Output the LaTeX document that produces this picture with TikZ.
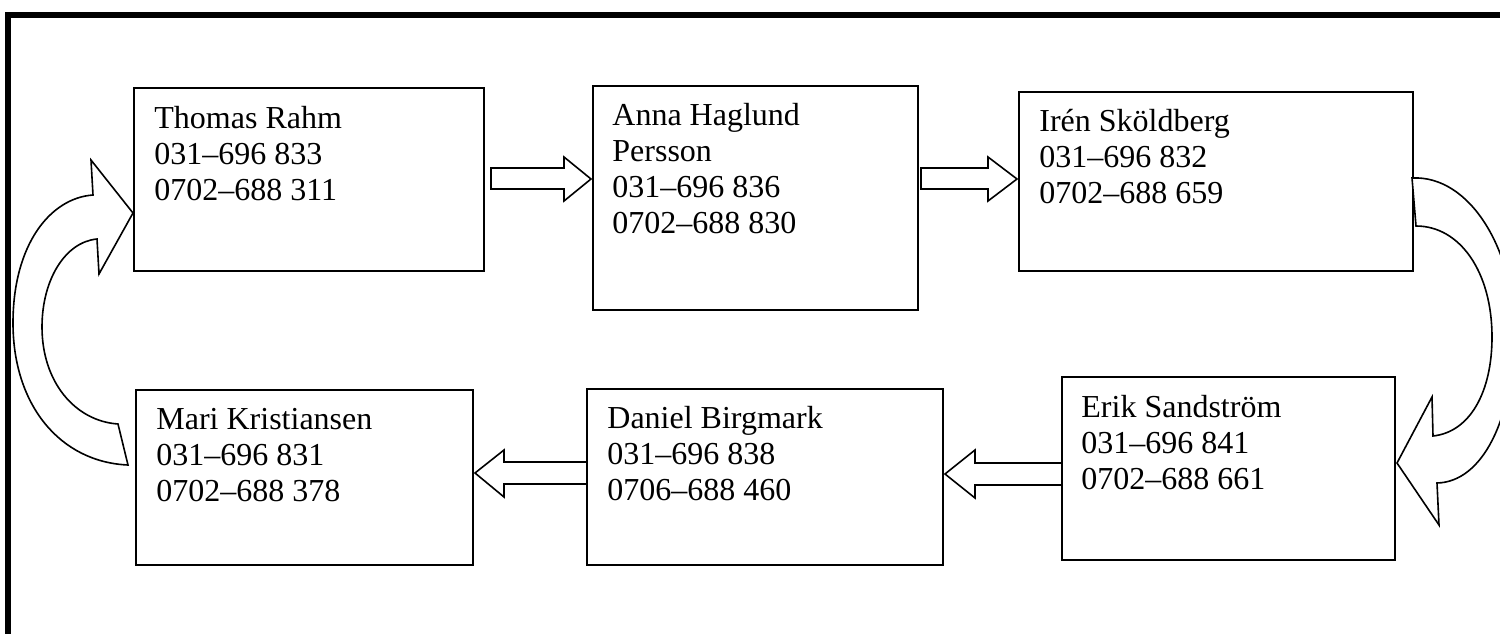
\documentclass[tikz,border=0pt]{standalone}
\usepackage{fontspec}
\setmainfont{Liberation Serif}
\usetikzlibrary{fit,calc}
\newcommand{\boxtext}[1]{\parbox[t]{8cm}{\raggedright\fontsize{16pt}{18pt}\selectfont #1}}
\tikzset{
  box/.style={draw, line width=1pt, inner sep=0pt},
  txt/.style={anchor=base west, inner sep=0pt},
  blockarrow/.style={draw, line width=0.8pt, line join=miter, fill=white},
  frame/.style={draw, line width=3pt}
}
\begin{document}
\begin{tikzpicture}[x=0.5pt,y=-0.5pt]
\useasboundingbox (0,0) rectangle (1500,633);
\begin{scope}
\clip (0,0) rectangle (1500,633);
% outer frame (only top and left visible)
\draw[frame] (8,660) -- (8,15) -- (1520,15);

% boxes
\node[box, fit={(134,88) (484,271)}] (b1) {};
\node[box, fit={(593,86) (918,310)}] (b2) {};
\node[box, fit={(1019,92) (1413,271)}] (b3) {};
\node[box, fit={(1062,377) (1395,560)}] (b4) {};
\node[box, fit={(587,389) (943,565)}] (b5) {};
\node[box, fit={(136,390) (473,565)}] (b6) {};

\node[txt] (t1) at ([shift={(21,41)}]b1.north west) {\boxtext{Thomas Rahm\\031–696 833\\0702–688 311}};
\node[txt] (t2) at ([shift={(20,40)}]b2.north west) {\boxtext{Anna Haglund\\Persson\\031–696 836\\0702–688 830}};
\node[txt] (t3) at ([shift={(21,40)}]b3.north west) {\boxtext{Irén Sköldberg\\031–696 832\\0702–688 659}};
\node[txt] (t4) at ([shift={(20,41)}]b4.north west) {\boxtext{Erik Sandström\\031–696 841\\0702–688 661}};
\node[txt] (t5) at ([shift={(21,40)}]b5.north west) {\boxtext{Daniel Birgmark\\031–696 838\\0706–688 460}};
\node[txt] (t6) at ([shift={(21,40)}]b6.north west) {\boxtext{Mari Kristiansen\\031–696 831\\0702–688 378}};

% straight block arrows
% b1 -> b2
\path[blockarrow] (491,168) -- (564,168) -- (564,157) -- (591,179) -- (564,201) -- (564,189) -- (491,189) -- cycle;
% b2 -> b3
\path[blockarrow] (921,168) -- (988,168) -- (988,157) -- (1017,179) -- (988,201) -- (988,189) -- (921,189) -- cycle;
% b4 -> b5
\path[blockarrow] (1062,463) -- (975,463) -- (975,450) -- (945,474) -- (975,498) -- (975,485) -- (1062,485) -- cycle;
% b5 -> b6
\path[blockarrow] (587,462) -- (504,462) -- (504,450) -- (475,473) -- (504,497) -- (504,484) -- (587,484) -- cycle;

% left curved arrow (b6 -> b1)
\path[blockarrow] (128,465) .. controls (60,462) and (13,405) .. (13,323)
  .. controls (13,245) and (50,198) .. (93,195)
  -- (91,160) -- (133,213) -- (99,274) -- (97,239)
  .. controls (65,242) and (42,280) .. (42,327)
  .. controls (42,382) and (75,421) .. (118,424) -- cycle;

% right curved arrow (b3 -> b4)
\path[blockarrow] (1412,178) .. controls (1470,175) and (1514,250) .. (1514,330)
  .. controls (1514,420) and (1482,482) .. (1437,483)
  -- (1439,525) -- (1397,463) -- (1432,397) -- (1433,436)
  .. controls (1470,432) and (1492,392) .. (1492,337)
  .. controls (1492,272) and (1460,226) .. (1416,226) -- cycle;
\end{scope}
\end{tikzpicture}
\end{document}
